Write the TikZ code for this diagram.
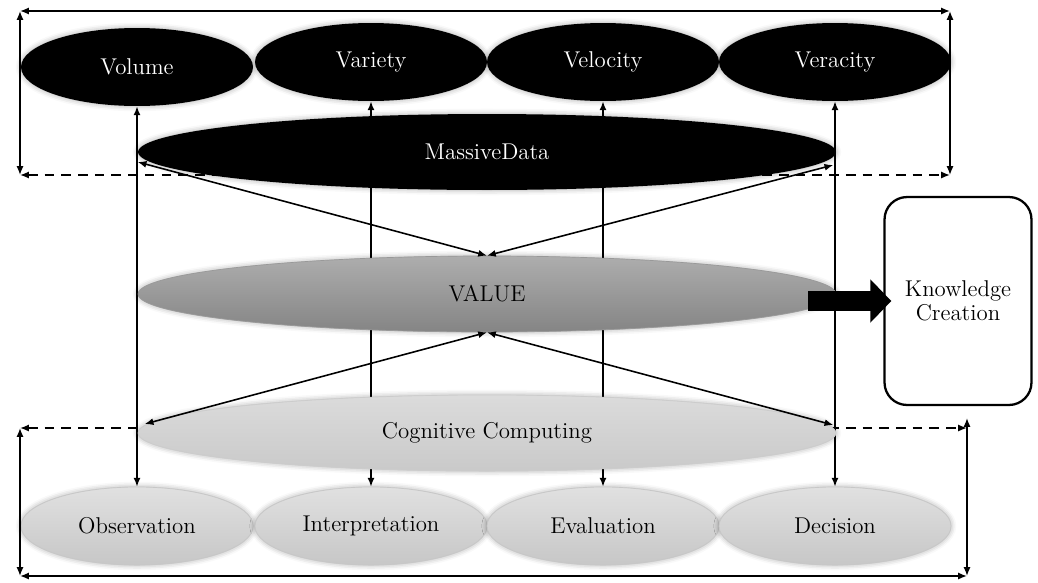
\documentclass[tikz,border=0pt]{standalone}
\usetikzlibrary{shapes.geometric,arrows.meta,shadows.blur}

\begin{document}
\begin{tikzpicture}[x=0.02cm,y=-0.02cm,
  >={Latex[length=5pt,width=4pt]},
  vee/.style={ellipse,inner sep=0pt,minimum width=4.64cm,minimum height=1.56cm,
    font=\fontsize{13}{14}\selectfont,
    blur shadow={shadow xshift=0pt,shadow yshift=0pt,shadow blur radius=3pt,shadow opacity=35}},
  darkv/.style={vee,fill=black,text=white},
  lightv/.style={vee,draw=black!22,top color=black!12,bottom color=black!22},
  band/.style={vee,minimum width=13.96cm,minimum height=1.52cm},
  link/.style={line width=0.9pt,<->}]
\useasboundingbox (0,0) rectangle (1038,582);

\node[darkv] (volume) at (137,67) {Volume};
\node[darkv] (variety) at (371,62) {Variety};
\node[darkv] (velocity) at (603,62) {Velocity};
\node[darkv] (veracity) at (835,62) {Veracity};

\node[lightv] (observation) at (137,526) {Observation};
\node[lightv] (interpretation) at (371,526) {Interpretation};
\node[lightv] (evaluation) at (603,526) {Evaluation};
\node[lightv] (decision) at (835,526) {Decision};

\coordinate (tl) at (20,11);
\coordinate (tr) at (950,11);
\coordinate (ml) at (20,175);
\coordinate (mr) at (950,175);
\coordinate (cl) at (20,428);
\coordinate (cr) at (967,428);
\coordinate (crt) at (967,418);
\coordinate (bl) at (20,576);
\coordinate (br) at (967,576);

\draw[link] (tl) -- (tr);
\draw[link] (tl) -- (ml);
\draw[link] (tr) -- (mr);
\draw[link,dash pattern=on 5.5pt off 4pt] (ml) -- (mr);
\draw[link,dash pattern=on 5.5pt off 4pt] (cl) -- (cr);
\draw[link] (cl) -- (bl);
\draw[link] (crt) -- (br);
\draw[link] (bl) -- (br);

\foreach \a/\b in {volume/observation,variety/interpretation,velocity/evaluation,veracity/decision}
  \draw[link] (\a.south) -- (\b.north);

\node[band,fill=black,text=white] (massive) at (487,152) {MassiveData};
\node[band,draw=black!40,top color=black!32,bottom color=black!48] (value) at (487,294) {VALUE};
\node[band,draw=black!20,top color=black!14,bottom color=black!21] (cognitive) at (487,433) {Cognitive Computing};

\draw[link] ([yshift=-0.2cm]massive.west) -- (value.north);
\draw[link] ([xshift=-0.06cm,yshift=-0.26cm]massive.east) -- (value.north);
\draw[link] ([xshift=0.14cm,yshift=0.18cm]cognitive.west) -- (value.south);
\draw[link] ([xshift=-0.06cm,yshift=0.16cm]cognitive.east) -- (value.south);

\node[draw,line width=1.3pt,rounded corners=0.45cm,minimum width=2.94cm,minimum height=4.16cm,
  align=center,font=\fontsize{13}{14}\selectfont] (knowledge) at (958,301) {Knowledge\\Creation};

\draw[line width=0.4cm,-{Triangle[length=0.42cm,width=0.84cm]},shorten >=-0.16cm]
  ([xshift=-0.56cm]value.east |- knowledge.west) -- (knowledge.west);
\end{tikzpicture}
\end{document}
